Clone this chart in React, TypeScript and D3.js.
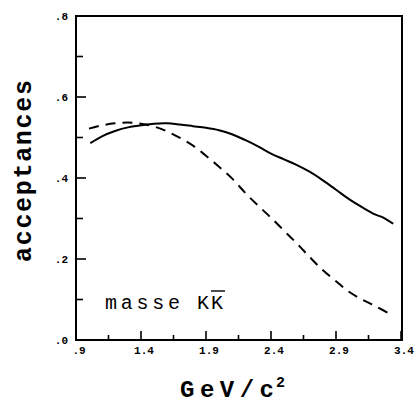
import React from "react";
import * as d3 from "d3";

// Acceptance vs. K Kbar mass (GeV/c^2)
const solidMass = [1.01, 1.1, 1.2, 1.3, 1.4, 1.5, 1.6, 1.7, 1.8, 1.9, 2.0, 2.1, 2.2, 2.3, 2.4, 2.5, 2.6, 2.7, 2.8, 2.9, 3.0, 3.1, 3.2, 3.26, 3.34];
const solidAcc = [0.486, 0.503, 0.516, 0.525, 0.530, 0.534, 0.535, 0.532, 0.528, 0.524, 0.518, 0.508, 0.494, 0.478, 0.460, 0.446, 0.432, 0.415, 0.394, 0.371, 0.348, 0.328, 0.310, 0.303, 0.287];

const dashedMass = [1.0, 1.1, 1.2, 1.3, 1.4, 1.5, 1.6, 1.7, 1.8, 1.9, 2.0, 2.1, 2.2, 2.3, 2.4, 2.5, 2.6, 2.7, 2.8, 2.9, 3.0, 3.1, 3.2, 3.33];
const dashedAcc = [0.522, 0.530, 0.535, 0.537, 0.534, 0.527, 0.515, 0.499, 0.480, 0.455, 0.428, 0.399, 0.364, 0.332, 0.302, 0.270, 0.238, 0.204, 0.172, 0.145, 0.119, 0.100, 0.084, 0.062];

const xMajor = [0.9, 1.4, 1.9, 2.4, 2.9, 3.4];
const xMajorLabels = [".9", "1.4", "1.9", "2.4", "2.9", "3.4"];
const xMinor = [1.15, 1.65, 2.15, 2.65, 3.15];
const yMajor = [0, 0.2, 0.4, 0.6, 0.8];
const yMajorLabels = [".0", ".2", ".4", ".6", ".8"];
const yMinor = [0.1, 0.3, 0.5, 0.7];

const W = 417;
const H = 405;
const left = 76, right = 402, top = 16, bottom = 340;

export default function App() {
  const x = d3.scaleLinear().domain([0.9, 3.4]).range([left, 401]);
  const y = d3.scaleLinear().domain([0, 0.8]).range([bottom, top]);
  const line = d3.line<[number, number]>().x((d) => x(d[0])).y((d) => y(d[1])).curve(d3.curveCatmullRom);
  const solidPts = solidMass.map((m, i) => [m, solidAcc[i]] as [number, number]);
  const dashedPts = dashedMass.map((m, i) => [m, dashedAcc[i]] as [number, number]);
  const mono = "'Liberation Mono', 'Courier New', monospace";

  return (
    <svg width={W} height={H} style={{ position: "absolute", left: 0, top: 0, background: "#fff" }}>
      <rect x={0} y={0} width={W} height={H} fill="#fff" />
      {/* frame */}
      <rect x={left} y={top} width={right - left} height={bottom - top} fill="none" stroke="#000" strokeWidth={2} />
      {/* y ticks */}
      {yMajor.map((v, i) => (
        <g key={"ym" + i}>
          <line x1={left} x2={left + 10} y1={y(v)} y2={y(v)} stroke="#000" strokeWidth={1.6} />
          <text x={68} y={y(v) + 3.5} textAnchor="end" fontFamily={mono} fontWeight="bold" fontSize={11}>{yMajorLabels[i]}</text>
        </g>
      ))}
      {yMinor.map((v, i) => (
        <line key={"yn" + i} x1={left} x2={left + 7} y1={y(v)} y2={y(v)} stroke="#000" strokeWidth={1.6} />
      ))}
      {/* x ticks */}
      {xMajor.map((v, i) => (
        <g key={"xm" + i}>
          <line x1={x(v)} x2={x(v)} y1={bottom} y2={bottom - 9} stroke="#000" strokeWidth={1.6} />
          <text x={x(v) + 3} y={354} textAnchor="middle" fontFamily={mono} fontWeight="bold" fontSize={11}>{xMajorLabels[i]}</text>
        </g>
      ))}
      {xMinor.map((v, i) => (
        <line key={"xn" + i} x1={x(v)} x2={x(v)} y1={bottom} y2={bottom - 5} stroke="#000" strokeWidth={1.6} />
      ))}
      {/* curves */}
      <path d={line(solidPts) || ""} fill="none" stroke="#000" strokeWidth={2} />
      <path d={line(dashedPts) || ""} fill="none" stroke="#000" strokeWidth={2} strokeDasharray="10,7" />
      {/* annotation */}
      <text x={105} y={309} fontFamily={mono} fontSize={20} textLength={75} lengthAdjust="spacing">masse</text>
      <text x={197} y={309} fontFamily={mono} fontSize={20} letterSpacing={2}>KK</text>
      <line x1={211} x2={225} y1={291} y2={291} stroke="#000" strokeWidth={1.4} />
      {/* axis titles */}
      <text x={180} y={397} fontFamily={mono} fontWeight="bold" fontSize={24} textLength={94} lengthAdjust="spacing">GeV/c</text>
      <text x={276} y={387} fontFamily={mono} fontWeight="bold" fontSize={15}>2</text>
      <text transform="translate(31,262) rotate(-90)" fontFamily={mono} fontWeight="bold" fontSize={25} textLength={182} lengthAdjust="spacing">acceptances</text>
    </svg>
  );
}
